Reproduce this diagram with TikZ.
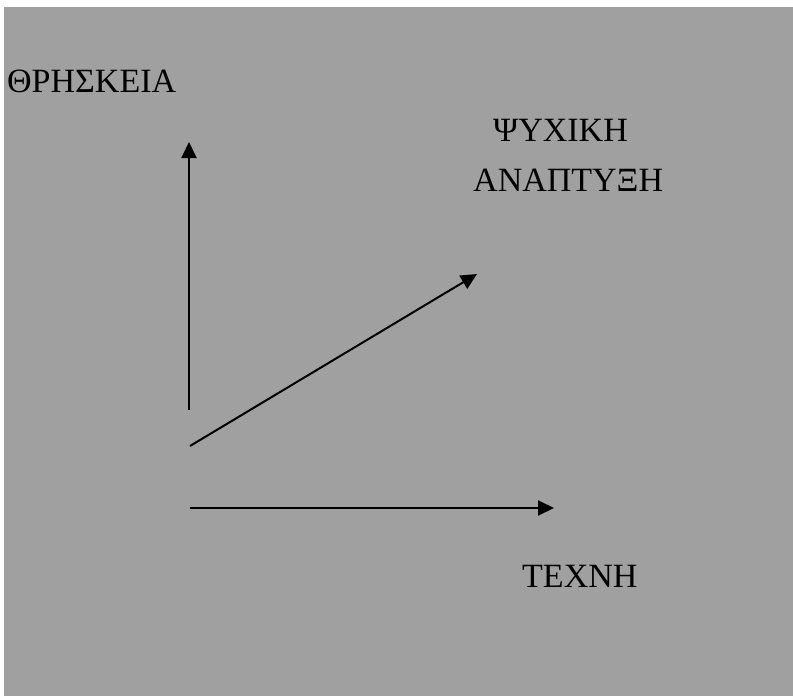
\documentclass[tikz,border=0pt]{standalone}
\usepackage{fontspec}
\setmainfont{Liberation Serif}
\usetikzlibrary{arrows.meta}
\definecolor{bggray}{HTML}{A0A0A0}
\tikzset{
  axis/.style={line width=2pt,-{Triangle[length=16pt,width=15pt]}},
  lbl/.style={anchor=base west,inner sep=0pt,font=\fontsize{34}{40}\selectfont}
}
\begin{document}
\begin{tikzpicture}[x=1pt,y=-1pt]
\useasboundingbox (0,0) rectangle (793,696);
\fill[bggray] (4,7) rectangle (793,696);
\coordinate (vs) at (189,410);
\coordinate (ve) at (189,142);
\coordinate (ds) at (190,446);
\coordinate (de) at (477,274);
\coordinate (hs) at (190,508);
\coordinate (he) at (554,508);
\draw[axis] (vs) -- (ve);
\draw[axis] (ds) -- (de);
\draw[axis] (hs) -- (he);
\node[lbl] (rel) at (7,92) {ΘΡΗΣΚΕΙΑ};
\node[lbl] (psy) at (493,141) {ΨΥΧΙΚΗ};
\node[lbl] (dev) at (473,191) {ΑΝΑΠΤΥΞΗ};
\node[lbl] (art) at (522,587) {ΤΕΧΝΗ};
\end{tikzpicture}
\end{document}
